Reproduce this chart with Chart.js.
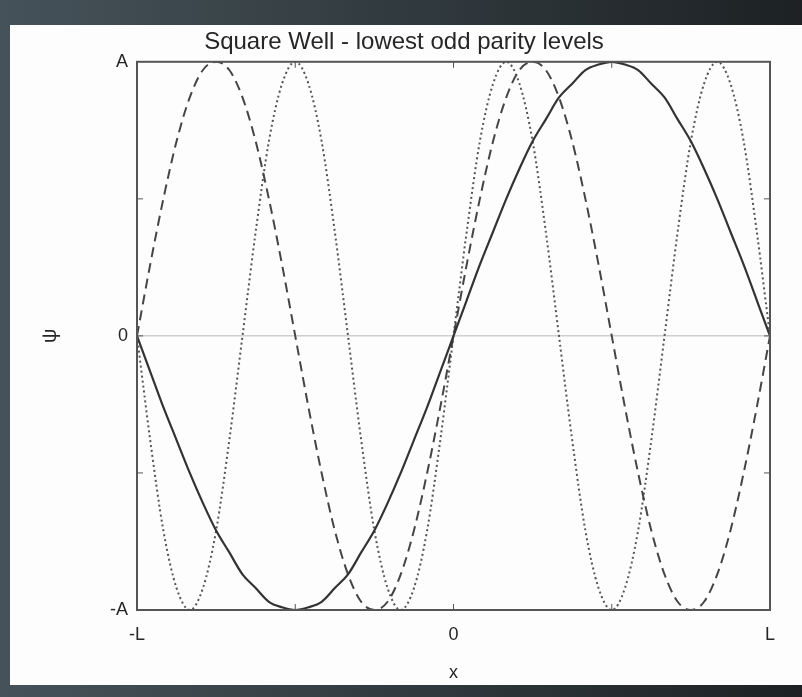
<!DOCTYPE html>
<html>
<head>
<meta charset="utf-8">
<script src="https://cdn.jsdelivr.net/npm/chart.js@4"></script>
<style>
  html, body { margin: 0; padding: 0; }
  body {
    width: 802px; height: 697px; overflow: hidden;
    background: linear-gradient(90deg, #46525a 0%, #333d41 45%, #1d2124 100%);
  }
  #panel {
    position: absolute; left: 10px; top: 25px; width: 792px; height: 660px;
    background: #fdfdfd;
  }
</style>
</head>
<body>
<div id="panel"><canvas id="well" width="792" height="660"></canvas></div>
<script>
// x positions in units of L (-L .. L, step L/24)
const xs = [-1, -0.9583, -0.9167, -0.875, -0.8333, -0.7917, -0.75, -0.7083, -0.6667, -0.625, -0.5833, -0.5417,
  -0.5, -0.4583, -0.4167, -0.375, -0.3333, -0.2917, -0.25, -0.2083, -0.1667, -0.125, -0.0833, -0.0417,
  0, 0.0417, 0.0833, 0.125, 0.1667, 0.2083, 0.25, 0.2917, 0.3333, 0.375, 0.4167, 0.4583,
  0.5, 0.5417, 0.5833, 0.625, 0.6667, 0.7083, 0.75, 0.7917, 0.8333, 0.875, 0.9167, 0.9583, 1];

// level 1 (solid), in units of A
const level1 = [0, -0.13, -0.26, -0.38, -0.5, -0.61, -0.71, -0.79, -0.87, -0.92, -0.97, -0.99,
  -1, -0.99, -0.97, -0.92, -0.87, -0.79, -0.71, -0.61, -0.5, -0.38, -0.26, -0.13,
  0, 0.13, 0.26, 0.38, 0.5, 0.61, 0.71, 0.79, 0.87, 0.92, 0.97, 0.99,
  1, 0.99, 0.97, 0.92, 0.87, 0.79, 0.71, 0.61, 0.5, 0.38, 0.26, 0.13, 0];

// level 2 (dashed)
const level2 = [0, 0.26, 0.5, 0.71, 0.87, 0.97, 1, 0.97, 0.87, 0.71, 0.5, 0.26,
  0, -0.26, -0.5, -0.71, -0.87, -0.97, -1, -0.97, -0.87, -0.71, -0.5, -0.26,
  0, 0.26, 0.5, 0.71, 0.87, 0.97, 1, 0.97, 0.87, 0.71, 0.5, 0.26,
  0, -0.26, -0.5, -0.71, -0.87, -0.97, -1, -0.97, -0.87, -0.71, -0.5, -0.26, 0];

// level 3 (dotted)
const level3 = [0, -0.38, -0.71, -0.92, -1, -0.92, -0.71, -0.38, 0, 0.38, 0.71, 0.92,
  1, 0.92, 0.71, 0.38, 0, -0.38, -0.71, -0.92, -1, -0.92, -0.71, -0.38,
  0, 0.38, 0.71, 0.92, 1, 0.92, 0.71, 0.38, 0, -0.38, -0.71, -0.92,
  -1, -0.92, -0.71, -0.38, 0, 0.38, 0.71, 0.92, 1, 0.92, 0.71, 0.38, 0];

const xTickLabels = { '-1': '-L', '0': '0', '1': 'L' };
const yTickLabels = { '-1': '-A', '0': '0', '1': 'A' };

const pts = ys => ys.map((y, i) => ({ x: xs[i], y: y }));
const textColor = '#262626';
const fontFamily = '"Liberation Sans", Arial, sans-serif';

// frame + small inward ticks, like the original plot box
const boxPlugin = {
  id: 'box',
  afterDatasetsDraw(chart) {
    const { ctx, chartArea: a, scales } = chart;
    ctx.save();
    ctx.strokeStyle = '#555';
    ctx.lineWidth = 2;
    ctx.strokeRect(a.left, a.top, a.right - a.left, a.bottom - a.top);
    ctx.lineWidth = 1;
    ctx.beginPath();
    [-0.5, 0, 0.5].forEach(v => {
      const px = scales.x.getPixelForValue(v);
      ctx.moveTo(px, a.bottom); ctx.lineTo(px, a.bottom - 6);
      ctx.moveTo(px, a.top); ctx.lineTo(px, a.top + 6);
      const py = scales.y.getPixelForValue(v);
      ctx.moveTo(a.left, py); ctx.lineTo(a.left + 6, py);
      ctx.moveTo(a.right, py); ctx.lineTo(a.right - 6, py);
    });
    ctx.stroke();
    ctx.restore();
  }
};

new Chart('well', {
  type: 'line',
  data: {
    datasets: [
      { data: pts(level1), borderColor: '#333', borderWidth: 2.2 },
      { data: pts(level2), borderColor: '#454545', borderWidth: 2, borderDash: [10, 6] },
      { data: pts(level3), borderColor: '#555', borderWidth: 2, borderDash: [2, 3] }
    ]
  },
  options: {
    responsive: false,
    animation: false,
    parsing: false,
    elements: { point: { radius: 0 }, line: { cubicInterpolationMode: 'monotone', fill: false } },
    layout: { padding: { left: 28, right: 32, top: 0, bottom: 0 } },
    plugins: {
      legend: { display: false },
      tooltip: { enabled: false },
      title: {
        display: true,
        text: 'Square Well - lowest odd parity levels',
        color: textColor,
        font: { family: fontFamily, size: 24, weight: 'normal' },
        padding: { top: 3, bottom: 5 }
      }
    },
    scales: {
      x: {
        type: 'linear', min: -1, max: 1,
        afterFit(scale) { scale.height = 75; },
        grid: { display: false, drawTicks: false },
        border: { display: false },
        ticks: {
          stepSize: 0.5, padding: 14, color: textColor, maxRotation: 0,
          font: { family: fontFamily, size: 18 },
          callback: v => xTickLabels[String(v)] || ''
        },
        title: {
          display: true, text: 'x', color: textColor,
          font: { family: fontFamily, size: 18 },
          padding: { top: 0, bottom: 1 }
        }
      },
      y: {
        type: 'linear', min: -1, max: 1,
        afterFit(scale) { scale.width = 99; },
        grid: {
          drawTicks: false,
          color: c => (c.tick && c.tick.value === 0 ? '#cfcfcf' : 'transparent'),
          lineWidth: 1.5
        },
        border: { display: false },
        ticks: {
          stepSize: 0.5, padding: 9, color: textColor,
          font: { family: fontFamily, size: 18 },
          callback: v => yTickLabels[String(v)] || ''
        },
        title: {
          display: true, text: 'ψ', color: textColor,
          font: { family: fontFamily, size: 20 },
          padding: { top: 0, bottom: 0 }
        }
      }
    }
  },
  plugins: [boxPlugin]
});
</script>
</body>
</html>
